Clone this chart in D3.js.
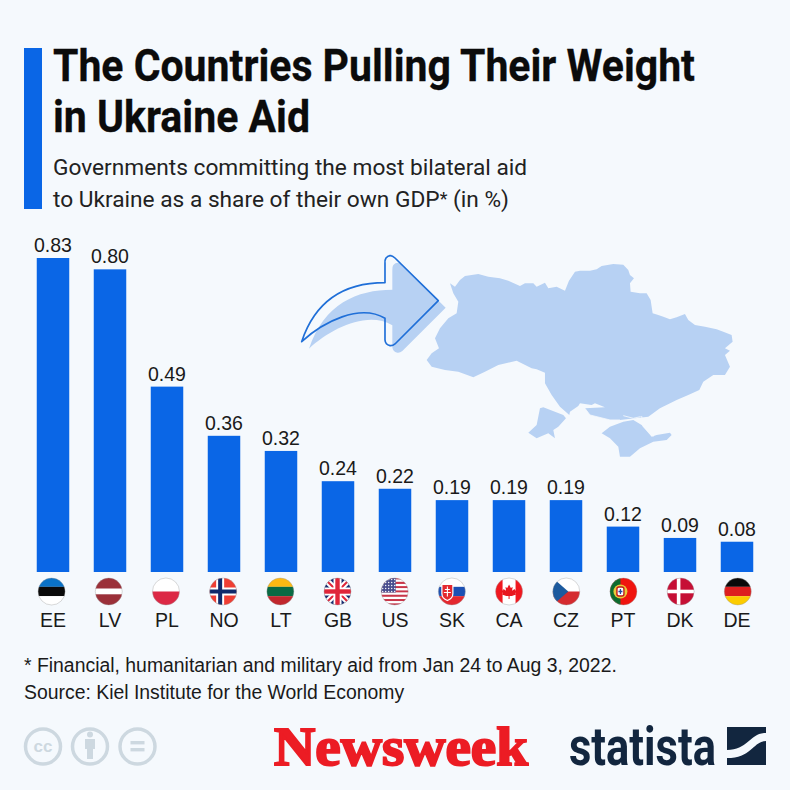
<!DOCTYPE html>
<html>
<head>
<meta charset="utf-8">
<script src="https://cdn.jsdelivr.net/npm/d3@7"></script>
<style>
html,body{margin:0;padding:0;background:#f5f9fd;}
svg{display:block;}
text{font-family:"Liberation Sans",Arial,sans-serif;}
</style>
</head>
<body>
<div id="chart"></div>
<script>
var countries=["EE","LV","PL","NO","LT","GB","US","SK","CA","CZ","PT","DK","DE"];
var shares=[0.83,0.80,0.49,0.36,0.32,0.24,0.22,0.19,0.19,0.19,0.12,0.09,0.08];
var titleLines=["The Countries Pulling Their Weight","in Ukraine Aid"];
var subtitleLines=["Governments committing the most bilateral aid","to Ukraine as a share of their own GDP* (in %)"];
var footLines=["* Financial, humanitarian and military aid from Jan 24 to Aug 3, 2022.","Source: Kiel Institute for the World Economy"];

var blue="#0a66e6", pale="#b7d1f3", ink="#1a1a1a", paper="#f5f9fd";

var svg=d3.select("#chart").append("svg").attr("width",790).attr("height",790);
svg.append("rect").attr("width",790).attr("height",790).attr("fill",paper);

// header
svg.append("rect").attr("x",24).attr("y",48).attr("width",18).attr("height",161).attr("fill",blue);
svg.selectAll(".title").data(titleLines).enter().append("text")
	.attr("class","title")
	.attr("x",53)
	.attr("y",function(d,i){return 81+i*51;})
	.attr("textLength",function(d,i){return i===0?642:257;})
	.attr("lengthAdjust","spacingAndGlyphs")
	.style("font-family","Roboto")
	.style("font-weight",700)
	.style("font-size","44px")
	.attr("fill","#0b0b0b")
	.attr("stroke","#0b0b0b")
	.attr("stroke-width",0.3)
	.text(function(d){return d;});
svg.selectAll(".subtitle").data(subtitleLines).enter().append("text")
	.attr("class","subtitle")
	.attr("x",53)
	.attr("y",function(d,i){return 175+i*32;})
	.style("font-family","Roboto")
	.style("font-size","22.7px")
	.attr("fill","#222")
	.each(function(d){
		// the asterisk sits small and raised
		var parts=d.split("*"), t=d3.select(this);
		t.append("tspan").text(parts[0]);
		if(parts.length>1){
			t.append("tspan").style("font-size","18px").attr("dy",-2).text("*");
			t.append("tspan").attr("dy",2).text(parts[1]);
		}
	});

// scales
var x=d3.scaleBand().domain(countries).range([24.5,765.5]).paddingInner(0.43).paddingOuter(0.215);
var y=d3.scaleLinear().domain([0,0.83]).range([572,258]);
var flagX=d3.scalePoint().domain(countries).range([51.6,737.8]);
var fmt=d3.format(".2f");
var rows=countries.map(function(c,i){return {code:c,share:shares[i]};});

// map and arrow, traced in zoomed coordinates
var deco=svg.append("g").attr("transform","translate(280,240) scale(0.3333)");
var ukraine="M510,130 L525,140 540,120 555,108 595,102 625,110 660,115 685,122 720,138 735,130 760,130 770,140 795,128 805,145 830,140 855,152 867,122 885,95 900,92 930,92 950,88 965,78 1000,72 1030,74 1045,90 1050,105 1062,115 1050,130 1052,155 1080,160 1100,160 1112,180 1118,220 1135,225 1150,230 1170,238 1190,232 1215,222 1225,240 1245,255 1275,260 1310,268 1330,275 1355,285 1358,305 1335,325 1350,332 1335,345 1350,380 1335,405 1300,405 1270,425 1258,450 1225,465 1190,480 1140,505 1105,530 1065,535 1020,540 990,540 930,525 915,505 975,502 945,490 935,495 900,490 895,498 870,515 868,525 840,500 815,465 795,430 795,398 770,388 755,385 710,362 655,375 615,395 580,412 535,395 495,390 455,380 440,360 455,340 477,325 465,295 480,265 505,235 530,220 535,185 520,160 Z";
var budjak="M780,505 L790,502 850,525 858,535 835,560 820,570 825,595 805,580 770,595 745,578 770,555 Z";
var crimea="M965,580 L990,560 1030,545 1060,540 1085,555 1115,590 1130,585 1170,578 1175,585 1160,600 1120,605 1080,625 1050,650 1020,650 1015,620 990,595 Z";
var sivash="M1030,527 L1060,535 1082,530 M1085,528 L1090,560 1120,590 M915,505 L930,525 990,540 1020,540";
var arrow="M475,182 L345,54 Q330,40 318,54 Q314,60 315,70 L315,128 C210,128 110,170 65,305 C130,245 240,190 315,235 L315,300 Q316,314 330,317 Q338,318 345,312 Z";
deco.append("path").attr("d",ukraine).attr("fill",pale);
deco.append("path").attr("d",budjak).attr("fill",pale);
deco.append("path").attr("d",crimea).attr("fill",pale);
deco.append("path").attr("d",sivash).attr("fill","none").attr("stroke",paper).attr("stroke-width",2.5);
deco.append("path").attr("d",arrow).attr("fill",pale).attr("transform","translate(22,21)");
deco.append("path").attr("d",arrow).attr("fill","none").attr("stroke","#1f6fd8").attr("stroke-width",5).attr("stroke-linejoin","round");

// bars
svg.selectAll(".bar").data(rows).enter().append("rect")
	.attr("class","bar")
	.attr("x",function(d){return x(d.code);})
	.attr("y",function(d){return y(d.share);})
	.attr("width",x.bandwidth())
	.attr("height",function(d){return y(0)-y(d.share);})
	.attr("fill",blue);
svg.selectAll(".val").data(rows).enter().append("text")
	.attr("class","val")
	.attr("x",function(d){return x(d.code)+x.bandwidth()/2;})
	.attr("y",function(d){return y(d.share)-6;})
	.attr("text-anchor","middle")
	.style("font-size","19.5px")
	.attr("fill",ink)
	.text(function(d){return fmt(d.share);});
svg.selectAll(".code").data(rows).enter().append("text")
	.attr("class","code")
	.attr("x",function(d){return x(d.code)+x.bandwidth()/2;})
	.attr("y",627)
	.attr("text-anchor","middle")
	.style("font-size","19.5px")
	.attr("fill",ink)
	.text(function(d){return d.code;});

// flags
svg.append("defs").append("clipPath").attr("id","flagClip").append("circle").attr("r",13.5);

function box(g,x0,y0,w,h,col){
	return g.append("rect").attr("x",x0).attr("y",y0).attr("width",w).attr("height",h).attr("fill",col);
}
function bands(g,cols,parts){
	var pos=-14, sum=d3.sum(parts);
	cols.forEach(function(c,i){
		var h=28*parts[i]/sum;
		box(g,-14,pos,28,h,c);
		pos+=h;
	});
}
function cross(g,cx,wide,narrow,bg,outer,inner){
	box(g,-14,-14,28,28,bg);
	box(g,cx-wide/2,-14,wide,28,outer);
	box(g,-14,-wide/2,28,wide,outer);
	if(inner){
		box(g,cx-narrow/2,-14,narrow,28,inner);
		box(g,-14,-narrow/2,28,narrow,inner);
	}
}
var flagDraw={
	EE:function(g){bands(g,["#0a72c7","#0a0a0a","#ffffff"],[1,1,1]);},
	LV:function(g){bands(g,["#9b3039","#ffffff","#9b3039"],[2,1,2]);},
	PL:function(g){bands(g,["#ffffff","#dc2845"],[1,1]);},
	NO:function(g){cross(g,-3,8,4,"#ef3e33","#ffffff","#0f2a6b");},
	LT:function(g){bands(g,["#fdb913","#0a6a44","#c1272d"],[1,1,1]);},
	GB:function(g){
		box(g,-14,-14,28,28,"#1a2f72");
		g.append("path").attr("d","M-14,-14L14,14M14,-14L-14,14").attr("stroke","#fff").attr("stroke-width",6);
		g.append("path").attr("d","M-14,-14L14,14M14,-14L-14,14").attr("stroke","#e0263a").attr("stroke-width",2);
		box(g,-4,-14,8,28,"#fff");box(g,-14,-4,28,8,"#fff");
		box(g,-2.2,-14,4.4,28,"#e0263a");box(g,-14,-2.2,28,4.4,"#e0263a");
	},
	US:function(g){
		d3.range(13).forEach(function(i){box(g,-14,-14+i*28/13,28,28/13,i%2?"#ffffff":"#c9364a");});
		box(g,-14,-14,15,15,"#4a4f8f");
		d3.range(-12,1,3).forEach(function(a){
			d3.range(-12,1,3).forEach(function(b){
				g.append("circle").attr("cx",a).attr("cy",b).attr("r",0.7).attr("fill","#fff");
			});
		});
	},
	SK:function(g){
		bands(g,["#ffffff","#1b50b4","#e4282f"],[1,1,1]);
		g.append("path").attr("d","M-10,-7H1V2Q1,7 -4.5,9Q-10,7 -10,2Z").attr("fill","#e4282f").attr("stroke","#fff").attr("stroke-width",1.2);
		g.append("path").attr("d","M-4.5,-5V5M-7,-2H-2M-8,1H-1").attr("stroke","#fff").attr("stroke-width",1.1);
	},
	CA:function(g){
		box(g,-14,-14,28,28,"#ffffff");
		box(g,-14,-14,7.5,28,"#f0181f");box(g,6.5,-14,7.5,28,"#f0181f");
		g.append("path").attr("d","M0,-7L1.8,-3.6 3.6,-4.6 3,-0.8 5.6,-2.6 6,-1 7.6,-1.2 6.4,2 7,3 2.8,4.6 0.5,4.6 0.5,7.5 -0.5,7.5 -0.5,4.6 -2.8,4.6 -7,3 -6.4,2 -7.6,-1.2 -6,-1 -5.6,-2.6 -3,-0.8 -3.6,-4.6 -1.8,-3.6Z").attr("fill","#e8181f");
	},
	CZ:function(g){
		bands(g,["#ffffff","#d52b2f"],[1,1]);
		g.append("path").attr("d","M-14,-14L2,0 -14,14Z").attr("fill","#1c5a9e");
	},
	PT:function(g){
		box(g,-14,-14,28,28,"#f0140f");
		box(g,-14,-14,11,28,"#0d6b2e");
		g.append("circle").attr("cx",-3).attr("r",7).attr("fill","#e9c93a");
		g.append("rect").attr("x",-6.5).attr("y",-4.5).attr("width",7).attr("height",9).attr("rx",2).attr("fill","#fff").attr("stroke","#c11a1a").attr("stroke-width",1.4);
		g.append("path").attr("d","M-3,-2.5V2.5M-5,0H-1").attr("stroke","#234a9e").attr("stroke-width",1.3);
	},
	DK:function(g){cross(g,-2,3.6,0,"#c60f35","#ffffff");},
	DE:function(g){bands(g,["#0a0a0a","#dd1f1f","#fccc00"],[1,1,1]);}
};
var flags=svg.selectAll(".flag").data(rows).enter().append("g")
	.attr("class","flag")
	.attr("transform",function(d){return "translate("+flagX(d.code)+",591.5)";});
flags.each(function(d){
	var inner=d3.select(this).append("g").attr("clip-path","url(#flagClip)");
	flagDraw[d.code](inner);
	d3.select(this).append("circle").attr("r",13.5).attr("fill","none").attr("stroke","#9a9a9a").attr("stroke-opacity",0.55).attr("stroke-width",0.7);
});

// footnote
svg.selectAll(".foot").data(footLines).enter().append("text")
	.attr("class","foot")
	.attr("x",24)
	.attr("y",function(d,i){return 672+i*27;})
	.style("font-size","19.4px")
	.attr("fill",ink)
	.text(function(d){return d;});

// cc icons
var grey="#cdd8e0";
var cc=svg.append("g");
[43,90,137.5].forEach(function(cx){
	cc.append("circle").attr("cx",cx).attr("cy",746.5).attr("r",17.5).attr("fill","none").attr("stroke",grey).attr("stroke-width",3.5);
});
cc.append("text").attr("x",43).attr("y",752).attr("text-anchor","middle").style("font-size","17px").style("font-weight",700).attr("fill",grey).text("cc");
cc.append("circle").attr("cx",90).attr("cy",734.5).attr("r",3).attr("fill",grey);
cc.append("rect").attr("x",85).attr("y",739).attr("width",10).attr("height",10).attr("fill",grey);
cc.append("rect").attr("x",87).attr("y",749).attr("width",6).attr("height",10).attr("fill",grey);
cc.append("rect").attr("x",130.5).attr("y",741).attr("width",14).attr("height",3.4).attr("fill",grey);
cc.append("rect").attr("x",130.5).attr("y",748).attr("width",14).attr("height",3.4).attr("fill",grey);

// logos
svg.append("text").attr("x",274).attr("y",765)
	.attr("textLength",254).attr("lengthAdjust","spacingAndGlyphs")
	.style("font-family","Liberation Serif").style("font-weight",700).style("font-size","54px")
	.attr("fill","#ec1c24").attr("stroke","#ec1c24").attr("stroke-width",2)
	.text("Newsweek");
svg.append("text").attr("x",569).attr("y",765)
	.attr("textLength",147).attr("lengthAdjust","spacingAndGlyphs")
	.style("font-family","Roboto").style("font-weight",700).style("font-size","54px")
	.attr("fill","#12263f")
	.text("statista");
svg.append("path").attr("d","M727,727 H766 V733 C750,733 748,750 727,750 Z").attr("fill","#12263f");
svg.append("path").attr("d","M766,741 C753,741 752,758 727,758 V765 H766 Z").attr("fill","#12263f");
</script>
</body>
</html>
